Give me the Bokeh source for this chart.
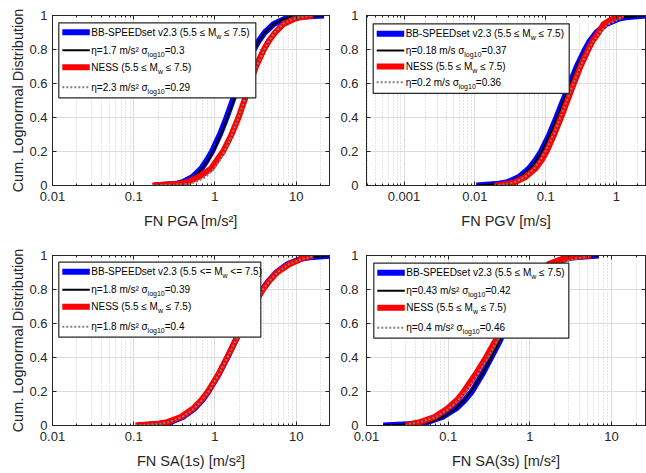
from bokeh.plotting import figure
from bokeh.models import (Range1d, FixedTicker, CustomJSTickFormatter,
                          BoxAnnotation, Label, Arrow, LogAxis, LinearAxis)
from bokeh.layouts import column, row
from bokeh.embed import file_html
from bokeh.resources import INLINE

# ------------------------------------------------------------------ data
cdf_levels = [0.0, 0.01, 0.02, 0.05, 0.1, 0.15, 0.2, 0.3, 0.4, 0.5,
              0.6, 0.7, 0.8, 0.85, 0.9, 0.95, 0.98, 0.99, 1.0]

# FN PGA [m/s2]
pga_bbspeed = [0.18, 0.33, 0.40, 0.53, 0.68, 0.80, 0.92, 1.15, 1.39, 1.65,
               1.98, 2.40, 3.00, 3.45, 4.10, 5.30, 7.20, 9.00, 22.0]
pga_bbspeed_fit = [0.18, 0.341, 0.411, 0.546, 0.701, 0.831, 0.950, 1.183, 1.427, 1.70,
                   2.025, 2.442, 3.041, 3.477, 4.121, 5.296, 7.025, 8.477, 22.0]
pga_ness = [0.17, 0.36, 0.46, 0.63, 0.90, 1.06, 1.26, 1.60, 1.95, 2.30,
            2.70, 3.20, 4.00, 4.60, 5.50, 7.00, 9.50, 11.5, 16.0]
pga_ness_fit = [0.17, 0.487, 0.583, 0.767, 0.977, 1.151, 1.311, 1.620, 1.942, 2.30,
                2.724, 3.265, 4.035, 4.596, 5.413, 6.90, 9.07, 10.87, 16.0]

# FN PGV [m/s]
pgv_bbspeed = [0.0105, 0.022, 0.029, 0.042, 0.058, 0.072, 0.086, 0.113, 0.142, 0.176,
               0.22, 0.275, 0.36, 0.42, 0.52, 0.72, 1.05, 1.35, 2.6]
pgv_bbspeed_fit = [0.0105, 0.0248, 0.0313, 0.0443, 0.0604, 0.0744, 0.0879, 0.1151, 0.1451, 0.18,
                   0.2234, 0.2813, 0.3687, 0.4352, 0.5364, 0.7311, 1.036, 1.306, 2.6]
pgv_ness = [0.019, 0.030, 0.037, 0.052, 0.072, 0.088, 0.103, 0.132, 0.165, 0.203,
            0.25, 0.31, 0.40, 0.46, 0.56, 0.66, 0.88, 1.00, 1.25]
pgv_ness_fit = [0.019, 0.0291, 0.0364, 0.0511, 0.0691, 0.0847, 0.0995, 0.1295, 0.1621, 0.20,
                0.2467, 0.309, 0.4018, 0.4722, 0.5786, 0.7818, 1.098, 1.20, 1.25]

# FN SA(1s) [m/s2]
sa1_bbspeed = [0.11, 0.215, 0.28, 0.40, 0.56, 0.70, 0.83, 1.11, 1.42, 1.79,
               2.25, 2.88, 3.83, 4.57, 5.70, 7.90, 11.4, 14.5, 28.0]
sa1_bbspeed_fit = [0.11, 0.223, 0.2846, 0.4109, 0.5693, 0.7097, 0.8455, 1.124, 1.434, 1.80,
                   2.26, 2.883, 3.833, 4.566, 5.691, 7.885, 11.39, 14.54, 28.0]
sa1_ness = [0.105, 0.20, 0.26, 0.38, 0.54, 0.68, 0.82, 1.10, 1.41, 1.79,
            2.27, 2.92, 3.90, 4.65, 5.80, 8.30, 11.5, 13.5, 16.0]
sa1_ness_fit = [0.105, 0.2113, 0.2715, 0.3957, 0.5528, 0.693, 0.8291, 1.11, 1.426, 1.80,
                2.273, 2.918, 3.908, 4.677, 5.861, 8.19, 11.94, 15.0, 16.0]

# FN SA(3s) [m/s2]
sa3_bbspeed = [0.016, 0.042, 0.055, 0.085, 0.125, 0.16, 0.195, 0.26, 0.335, 0.43,
               0.54, 0.69, 0.92, 1.10, 1.40, 1.75, 2.60, 3.50, 7.0]
sa3_bbspeed_fit = [0.016, 0.0453, 0.059, 0.0876, 0.1245, 0.1578, 0.1905, 0.259, 0.3366, 0.43,
                   0.5494, 0.714, 0.9705, 1.172, 1.485, 2.11, 3.134, 4.078, 7.0]
sa3_ness = [0.030, 0.036, 0.045, 0.068, 0.098, 0.128, 0.155, 0.215, 0.29, 0.38,
            0.49, 0.65, 0.90, 1.10, 1.35, 1.70, 2.50, 3.30, 5.6]
sa3_ness_fit = [0.030, 0.034, 0.0454, 0.070, 0.103, 0.1334, 0.164, 0.2296, 0.3059, 0.40,
                0.523, 0.697, 0.9754, 1.199, 1.554, 2.285, 3.524, 4.70, 5.6]

# texts
x_labels = ["FN PGA [m/s²]", "FN PGV [m/s]", "FN SA(1s) [m/s²]", "FN SA(3s) [m/s²]"]
y_label = "Cum. Lognormal Distribution"
y_ticks = [0, 0.2, 0.4, 0.6, 0.8, 1]
x_ticks_acc = [0.01, 0.1, 1, 10]
x_ticks_vel = [0.001, 0.01, 0.1, 1]

legend_bb = ["BB-SPEEDset v2.3 (5.5 ≤ M", "w", " ≤ 7.5)"]
legend_bb_sa1 = ["BB-SPEEDset v2.3 (5.5 <= M", "w", " <= 7.5)"]
legend_ness = ["NESS (5.5 ≤ M", "w", " ≤ 7.5)"]
pga_fit_labels = [["η=1.7 m/s² σ", "log10", "=0.3"], ["η=2.3 m/s² σ", "log10", "=0.29"]]
pgv_fit_labels = [["η=0.18 m/s σ", "log10", "=0.37"], ["η=0.2 m/s σ", "log10", "=0.36"]]
sa1_fit_labels = [["η=1.8 m/s² σ", "log10", "=0.39"], ["η=1.8 m/s² σ", "log10", "=0.4"]]
sa3_fit_labels = [["η=0.43 m/s² σ", "log10", "=0.42"], ["η=0.4 m/s² σ", "log10", "=0.46"]]

# ------------------------------------------------------------------ style
FONT = "Liberation Sans"
AX = "#262626"
GRID = "#dcdcdc"
MINOR = "#cdcdcd"
DOT = "#808080"
FH = 170  # frame height

CHAR_W = {' ': 0.278, '(': 0.333, ')': 0.333, '-': 0.333, '.': 0.278, '/': 0.278,
          '<': 0.584, '=': 0.584, 'B': 0.667, 'D': 0.722, 'E': 0.667, 'M': 0.833,
          'N': 0.722, 'P': 0.667, 'S': 0.667, 'e': 0.556, 'g': 0.556, 'l': 0.222,
          'm': 0.833, 'o': 0.556, 's': 0.5, 't': 0.278, 'v': 0.5, 'w': 0.722,
          '²': 0.333, 'η': 0.556, 'σ': 0.6, '≤': 0.549}


def text_w(s, size):
    return sum(CHAR_W.get(c, 0.556) for c in s) * size


def screen_box(**kw):
    return BoxAnnotation(left_units="screen", right_units="screen",
                         top_units="screen", bottom_units="screen", **kw)


def add_text(p, x, s, y, size):
    # SVG drops leading blanks, so move them into the x offset
    stripped = s.lstrip(" ")
    x += text_w(s[:len(s) - len(stripped)], size)
    p.add_layout(Label(x=x, y=y, x_units="screen", y_units="screen", text=stripped,
                       text_font=FONT, text_font_size=f"{size}px", text_color="black",
                       text_baseline="middle", text_align="left"))


def add_legend(p, left, top, width, height, rows_y, labels):
    p.add_layout(screen_box(left=left, right=left + width, top=FH - top,
                            bottom=FH - top - height,
                            fill_color="white", fill_alpha=1.0,
                            line_color=AX, line_width=1.2, line_alpha=1.0))
    styles = [("thick", "blue"), ("thin", "black"), ("thick", "red"), ("dot", DOT)]
    for (kind, col), ry, frags in zip(styles, rows_y, labels):
        y = FH - top - ry
        x0, x1 = left + 3.5, left + 31
        if kind == "thick":
            p.add_layout(screen_box(left=x0, right=x1, bottom=y - 3, top=y + 3,
                                    fill_color=col, fill_alpha=1.0, line_color=None))
        elif kind == "thin":
            p.add_layout(screen_box(left=x0, right=x1, bottom=y - 1, top=y + 1,
                                    fill_color=col, fill_alpha=1.0, line_color=None))
        else:
            p.add_layout(Arrow(end=None, x_start=x0, y_start=y, x_end=x1, y_end=y,
                               start_units="screen", end_units="screen",
                               line_color=col, line_width=2, line_dash="2 2"))
        tx = left + 32.5
        main, sub, tail = frags
        add_text(p, tx, main, y, 10)
        tx += text_w(main, 10)
        add_text(p, tx, sub, y - 4, 7)
        tx += text_w(sub, 7)
        add_text(p, tx, tail, y, 10)


def style_axis(ax):
    ax.axis_line_color = AX
    ax.major_tick_line_color = AX
    ax.minor_tick_line_color = AX
    ax.major_tick_in = 4
    ax.major_tick_out = 0
    ax.minor_tick_in = 2
    ax.minor_tick_out = 0
    ax.major_label_text_font = FONT
    ax.major_label_text_font_size = "13px"
    ax.major_label_text_color = AX
    ax.axis_label_text_font = FONT
    ax.axis_label_text_font_size = "14.5px"
    ax.axis_label_text_font_style = "normal"
    ax.axis_label_text_color = AX


def make_panel(xb, xbf, xn, xnf, xrange, xticks, xlabel, ylab, width, height,
               bl, br, bt, bb, ystand, legend_geom, legend_labels):
    p = figure(width=width, height=height, x_axis_type="log",
               x_range=Range1d(*xrange), y_range=Range1d(0, 1),
               output_backend="svg", toolbar_location=None,
               min_border_left=bl, min_border_right=br,
               min_border_top=bt, min_border_bottom=bb)
    p.background_fill_color = "white"
    p.border_fill_color = "white"
    p.outline_line_color = AX
    p.outline_line_alpha = 1.0
    p.outline_line_width = 1

    minor = [k * 10.0 ** d for d in range(-4, 2) for k in range(2, 10)]
    xt = FixedTicker(ticks=xticks, minor_ticks=minor)
    yt = FixedTicker(ticks=y_ticks)
    p.xaxis.ticker = xt
    p.xgrid.ticker = xt
    p.yaxis.ticker = yt
    p.ygrid.ticker = yt
    fmt = "return String(tick)"
    p.xaxis.formatter = CustomJSTickFormatter(code=fmt)
    p.yaxis.formatter = CustomJSTickFormatter(code=fmt)

    style_axis(p.xaxis[0])
    style_axis(p.yaxis[0])
    p.xaxis.major_label_standoff = 6
    p.yaxis.major_label_standoff = ystand
    p.xaxis.axis_label = xlabel
    p.xaxis.axis_label_standoff = 9
    if ylab:
        p.yaxis.axis_label = y_label
        p.yaxis.axis_label_standoff = 0

    # mirrored tick marks on top and right (box on), no labels
    top_ax = LogAxis(ticker=xt, formatter=CustomJSTickFormatter(code="return ''"))
    right_ax = LinearAxis(ticker=yt, formatter=CustomJSTickFormatter(code="return ''"))
    for ax in (top_ax, right_ax):
        style_axis(ax)
        ax.major_label_text_font_size = "1px"
        ax.major_label_text_alpha = 0.0
        ax.major_label_standoff = 0
    p.add_layout(top_ax, "above")
    p.add_layout(right_ax, "right")

    p.xgrid.grid_line_color = GRID
    p.ygrid.grid_line_color = GRID
    p.xgrid.minor_grid_line_color = MINOR
    p.xgrid.minor_grid_line_dash = "1 2"

    p.line(xb, cdf_levels, line_color="blue", line_width=6, line_join="round")
    p.line(xbf, cdf_levels, line_color="black", line_width=2)
    p.line(xn, cdf_levels, line_color="red", line_width=6, line_join="round")
    p.line(xnf, cdf_levels, line_color=DOT, line_width=2, line_dash="2 2")

    add_legend(p, *legend_geom, legend_labels)
    return p


rows_acc = [9.5, 27.5, 44.5, 64.5]
rows_vel = [10, 26.7, 42.7, 58.4]

p1 = make_panel(pga_bbspeed, pga_bbspeed_fit, pga_ness, pga_ness_fit, (0.01, 25.7),
                x_ticks_acc, x_labels[0], True, 330, 245, 52, 1, 15, 60, 5,
                (6.3, 7.3, 197, 75, rows_acc),
                [legend_bb, pga_fit_labels[0], legend_ness, pga_fit_labels[1]])
p2 = make_panel(pgv_bbspeed, pgv_bbspeed_fit, pgv_ness, pgv_ness_fit, (0.000295, 2.57),
                x_ticks_vel, x_labels[1], False, 316, 245, 36, 1, 15, 60, 8,
                (6.7, 8.3, 196, 69.5, rows_vel),
                [legend_bb, pgv_fit_labels[0], legend_ness, pgv_fit_labels[1]])
p3 = make_panel(sa1_bbspeed, sa1_bbspeed_fit, sa1_ness, sa1_ness_fit, (0.01, 25.7),
                x_ticks_acc, x_labels[2], True, 330, 228, 52, 1, 10, 48, 5,
                (6.3, 6.7, 202, 75, rows_acc),
                [legend_bb_sa1, sa1_fit_labels[0], legend_ness, sa1_fit_labels[1]])
p4 = make_panel(sa3_bbspeed, sa3_bbspeed_fit, sa3_ness, sa3_ness_fit, (0.01, 26.0),
                x_ticks_acc, x_labels[3], False, 316, 228, 36, 1, 10, 48, 8,
                (7.3, 7.7, 195, 75, rows_acc),
                [legend_bb, sa3_fit_labels[0], legend_ness, sa3_fit_labels[1]])

layout = column(row(p1, p2), row(p3, p4))
open("out.html", "w").write(file_html(layout, INLINE))
